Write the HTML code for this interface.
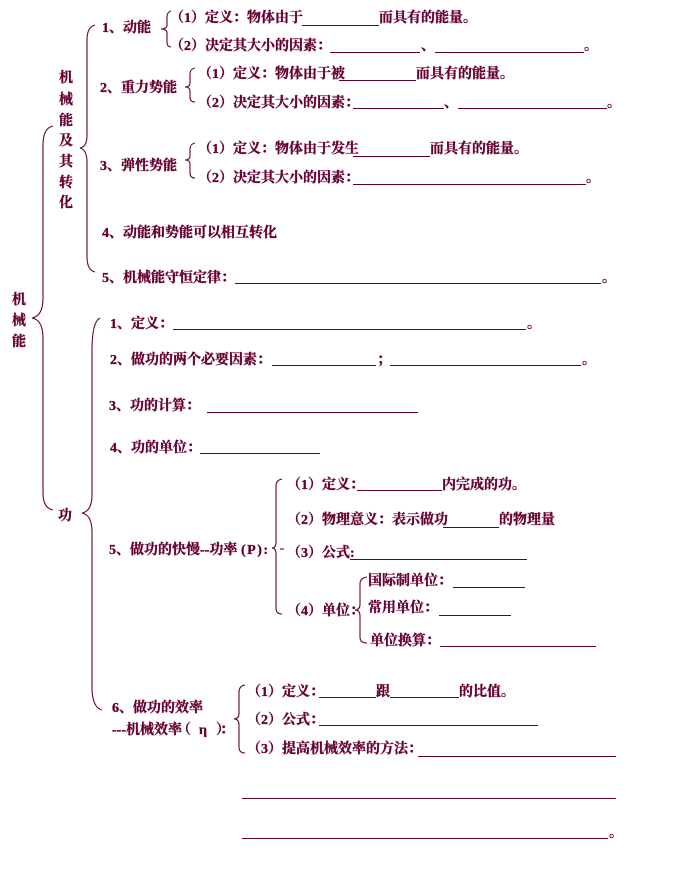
<!DOCTYPE html>
<html><head><meta charset="utf-8"><style>
html,body{margin:0;padding:0;background:#fff}
#c{position:relative;width:691px;height:871px;overflow:hidden;background:#fff}
.t{position:absolute;margin-top:3px;font-weight:bold;font-size:14px;line-height:14px;font-family:"Liberation Serif","Noto Serif CJK SC","Noto Sans CJK SC",serif;color:#660033;white-space:nowrap;-webkit-text-stroke:0.35px #660033}
.u{position:absolute;height:1px;background:#660033}
svg{position:absolute;left:0;top:0}
</style></head><body><div id="c">
<svg width="691" height="871" viewBox="0 0 691 871" fill="none" stroke="#660033" stroke-width="1.1">
<path d="M53,126 Q43,128 43,145 L43,298 Q43,316 32,318 Q43,320 43,338 L43,493 Q43,508 53,510"/>
<path d="M95,25 Q87,27 87,40 L87,135 Q87,147 80,148 Q87,150 87,162 L87,257 Q87,270 95,272"/>
<path d="M100,318 Q92,322 92,350 L92,495 Q92,511 82,513 Q92,515 92,532 L92,690 Q93,708 102,710"/>
<path d="M171,11 Q167,12 167,17 L167,25 Q167,29 161,29 Q167,29 167,33 L167,42 Q167,47 171,47"/>
<path d="M195,68 Q190,69 190,74 L190,83 Q190,87 185,87 Q190,87 190,91 L190,97 Q190,102 195,102"/>
<path d="M195,143 Q190,144 190,149 L190,156 Q190,160 185,160 Q190,160 190,164 L190,173 Q190,178 195,178"/>
<path d="M282,479 Q276,480 276,486 L276,542 Q276,548 272,548 Q276,548 276,554 L276,608 Q276,614 282,614"/>
<path d="M280,549 L284,549"/>
<path d="M367,577 Q360,578 360,584 L360,604 Q360,610 355,610 Q360,610 360,616 L360,637 Q360,643 367,643"/>
<path d="M245,685 Q239,686 239,692 L239,713 Q239,719 234,719 Q239,719 239,725 L239,747 Q239,753 245,753"/>
</svg>

<div class="t" style="left:59px;top:69px">机</div>
<div class="t" style="left:59px;top:91px">械</div>
<div class="t" style="left:59px;top:112px">能</div>
<div class="t" style="left:59px;top:132px">及</div>
<div class="t" style="left:59px;top:153px">其</div>
<div class="t" style="left:59px;top:174px">转</div>
<div class="t" style="left:59px;top:194px">化</div>

<div class="t" style="left:12px;top:291px">机</div>
<div class="t" style="left:12px;top:312px">械</div>
<div class="t" style="left:12px;top:333px">能</div>

<div class="t" style="left:102px;top:19px">1、动能</div>
<div class="t" style="left:170px;top:9px">（1）定义：物体由于</div>
<div class="u" style="left:302px;width:77px;top:25px"></div>
<div class="t" style="left:379px;top:9px">而具有的能量。</div>
<div class="t" style="left:170px;top:37px">（2）决定其大小的因素：</div>
<div class="u" style="left:330px;width:90px;top:52px"></div>
<div class="t" style="left:421px;top:37px">、</div>
<div class="u" style="left:435px;width:149px;top:52px"></div>
<div class="t" style="left:584px;top:37px">。</div>

<div class="t" style="left:100px;top:79px">2、重力势能</div>
<div class="t" style="left:198px;top:65px">（1）定义：物体由于被</div>
<div class="u" style="left:339px;width:77px;top:80px"></div>
<div class="t" style="left:416px;top:65px">而具有的能量。</div>
<div class="t" style="left:198px;top:94px">（2）决定其大小的因素：</div>
<div class="u" style="left:353px;width:91px;top:108px"></div>
<div class="t" style="left:444px;top:94px">、</div>
<div class="u" style="left:458px;width:149px;top:108px"></div>
<div class="t" style="left:607px;top:94px">。</div>

<div class="t" style="left:100px;top:157px">3、弹性势能</div>
<div class="t" style="left:198px;top:140px">（1）定义：物体由于发生</div>
<div class="u" style="left:353px;width:77px;top:156px"></div>
<div class="t" style="left:430px;top:140px">而具有的能量。</div>
<div class="t" style="left:198px;top:169px">（2）决定其大小的因素：</div>
<div class="u" style="left:353px;width:233px;top:184px"></div>
<div class="t" style="left:586px;top:169px">。</div>

<div class="t" style="left:102px;top:224px">4、动能和势能可以相互转化</div>
<div class="t" style="left:102px;top:269px">5、机械能守恒定律：</div>
<div class="u" style="left:235px;width:366px;top:283px"></div>
<div class="t" style="left:602px;top:269px">。</div>

<div class="t" style="left:110px;top:315px">1、定义：</div>
<div class="u" style="left:173px;width:353px;top:329px"></div>
<div class="t" style="left:527px;top:315px">。</div>
<div class="t" style="left:110px;top:351px">2、做功的两个必要因素：</div>
<div class="u" style="left:272px;width:104px;top:365px"></div>
<div class="t" style="left:377px;top:351px">；</div>
<div class="u" style="left:390px;width:191px;top:365px"></div>
<div class="t" style="left:582px;top:351px">。</div>
<div class="t" style="left:109px;top:397px">3、功的计算：</div>
<div class="u" style="left:207px;width:211px;top:412px"></div>
<div class="t" style="left:110px;top:439px">4、功的单位：</div>
<div class="u" style="left:200px;width:120px;top:453px"></div>

<div class="t" style="left:58px;top:507px">功</div>

<div class="t" style="left:109px;top:541px">5、做功的快慢--功率</div>
<div class="t" style="left:241px;top:541px;letter-spacing:1.5px">(P):</div>

<div class="t" style="left:287px;top:476px">（1）定义：</div>
<div class="u" style="left:357px;width:85px;top:490px"></div>
<div class="t" style="left:442px;top:476px">内完成的功。</div>
<div class="t" style="left:287px;top:511px">（2）物理意义：表示做功</div>
<div class="u" style="left:443px;width:56px;top:527px"></div>
<div class="t" style="left:499px;top:511px">的物理量</div>
<div class="t" style="left:287px;top:544px">（3）公式:</div>
<div class="u" style="left:350px;width:177px;top:559px"></div>
<div class="t" style="left:287px;top:602px">（4）单位：</div>
<div class="t" style="left:368px;top:572px">国际制单位：</div>
<div class="u" style="left:453px;width:72px;top:587px"></div>
<div class="t" style="left:368px;top:599px">常用单位：</div>
<div class="u" style="left:439px;width:72px;top:615px"></div>
<div class="t" style="left:370px;top:632px">单位换算：</div>
<div class="u" style="left:440px;width:156px;top:646px"></div>

<div class="t" style="left:112px;top:699px">6、做功的效率</div>
<div class="t" style="left:112px;top:721px">---机械效率</div>
<div class="t" style="left:177px;top:721px">（</div>
<div class="t" style="left:199px;top:721px">η</div>
<div class="t" style="left:216px;top:721px">）</div>
<div class="t" style="left:220px;top:721px">：</div>

<div class="t" style="left:247px;top:683px">（1）定义：</div>
<div class="u" style="left:319px;width:57px;top:697px"></div>
<div class="t" style="left:376px;top:683px">跟</div>
<div class="u" style="left:390px;width:69px;top:697px"></div>
<div class="t" style="left:459px;top:683px">的比值。</div>
<div class="t" style="left:247px;top:711px">（2）公式：</div>
<div class="u" style="left:319px;width:219px;top:725px"></div>
<div class="t" style="left:247px;top:740px">（3）提高机械效率的方法：</div>
<div class="u" style="left:418px;width:198px;top:756px"></div>
<div class="u" style="left:242px;width:374px;top:798px"></div>
<div class="u" style="left:242px;width:366px;top:838px"></div>
<div class="t" style="left:609px;top:824px">。</div>
</div></body></html>
